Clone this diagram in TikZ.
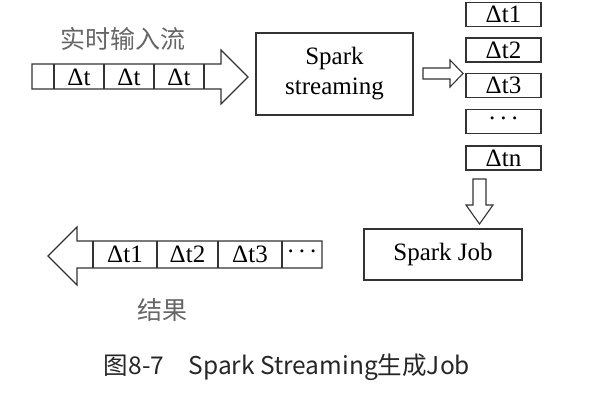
\documentclass[tikz,border=0pt]{standalone}
\usepackage{fontspec}
\setmainfont{Liberation Serif}
\newfontfamily\cjk{Noto Sans CJK SC}
\newcommand{\mydots}{\raisebox{0.25em}{.\hspace{0.2em}.\hspace{0.2em}.}}
\begin{document}
\begin{tikzpicture}[x=1pt,y=-1pt,
  ln/.style={draw=black!80,line width=1.1pt},
  box/.style={ln,minimum width=75pt,minimum height=24pt,inner sep=0pt,font=\fontsize{25}{25}\selectfont},
  cell/.style={inner sep=0pt,font=\fontsize{25}{25}\selectfont},
  big/.style={ln,inner sep=0pt,font=\fontsize{25}{30}\selectfont,align=center},
  lab/.style={text=black!60,font=\cjk\fontsize{25}{25}\selectfont}]
\useasboundingbox (0,0) rectangle (592,407);
% input stream arrow
\draw[ln,line join=miter] (32,64) -- (221,64) -- (221,50) -- (248,77) -- (221,104) -- (221,89) -- (32,89) -- cycle;
\foreach \x in {54,104,154,204} \draw[ln] (\x,64) -- (\x,89);
\node[cell] (in1) at (79,77) {Δt};
\node[cell] (in2) at (129,77) {Δt};
\node[cell] (in3) at (179,77) {Δt};
\node[lab] (inlab) at (123,39) {实时输入流};
% spark streaming
\node[big,minimum width=157pt,minimum height=82pt] (ss) at (334.5,74) {Spark\\streaming};
% small right arrow
\draw[ln,line join=miter] (423,68) -- (450,68) -- (450,60) -- (463,73.5) -- (450,87) -- (450,79) -- (423,79) -- cycle;
% batches
\node[box] (b1) at (503.5,14.5) {Δt1};
\node[box] (b2) at (503.5,50) {Δt2};
\node[box] (b3) at (503.5,85.5) {Δt3};
\node[box] (b4) at (503.5,121.5) {\mydots};
\node[box] (b5) at (503.5,158) {Δtn};
% down arrow
\draw[ln,line join=miter] (473,179) -- (486,179) -- (486,205) -- (493,205) -- (479.5,224) -- (466,205) -- (473,205) -- cycle;
% spark job
\node[big,minimum width=158pt,minimum height=51pt] (sj) at (443,254.5) {Spark Job};
% output arrow
\draw[ln,line join=miter] (322,241) -- (77,241) -- (77,227) -- (48,256) -- (77,285) -- (77,268) -- (322,268) -- cycle;
\foreach \x in {93,157,218,282} \draw[ln] (\x,241) -- (\x,268);
\node[cell] (o1) at (125,254.5) {Δt1};
\node[cell] (o2) at (187.5,254.5) {Δt2};
\node[cell] (o3) at (250,254.5) {Δt3};
\node[cell] (o4) at (302,254.5) {\mydots};
\node[lab] (outlab) at (162,310) {结果};
% caption
\node[font=\cjk\fontsize{24.5}{24.5}\selectfont,text=black!85] (cap) at (287,367) {图8-7\hspace{1em}Spark Streaming生成Job};
\end{tikzpicture}
\end{document}
